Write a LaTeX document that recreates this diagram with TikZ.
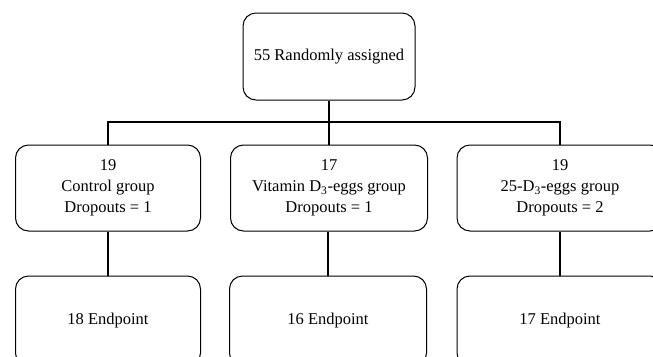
\documentclass[tikz,border=0pt]{standalone}
\usepackage{fontspec}
\setmainfont{Liberation Serif}
\usepackage{tikz}
\usetikzlibrary{positioning,calc}

\begin{document}
\begin{tikzpicture}[x=1pt, y=-1pt, font=\fontsize{16.5}{21}\selectfont,
    box/.style={draw, line width=1pt, rounded corners=13pt, align=center, inner sep=0pt},
    bar/.style={line width=2.8pt}]
    \useasboundingbox (0,0) rectangle (653,356);
    \clip (0,0) rectangle (653,356);
    \node [box, minimum width=172pt, minimum height=87pt] (rand) at (329,56.5) {55 Randomly assigned};

    \node [box, minimum width=185pt, minimum height=86pt] (ctrl) at (108,188) {19\\Control group\\Dropouts = 1};
    \node [box, minimum width=197pt, minimum height=86pt] (vitd) at (329,188) {17\\Vitamin D\textsubscript{3}-eggs group\\Dropouts = 1};
    \node [box, minimum width=206pt, minimum height=86pt] (hyd) at (560,188) {19\\25-D\textsubscript{3}-eggs group\\Dropouts = 2};

    \node [box, minimum width=185pt, minimum height=90pt] (endc) at (108,321) {18 Endpoint};
    \node [box, minimum width=197pt, minimum height=90pt] (endv) at (328,321) {16 Endpoint};
    \node [box, minimum width=206pt, minimum height=90pt] (endh) at (560,321) {17 Endpoint};

    \coordinate (bus) at (329,122);
    \draw [bar] (rand.south) -- (vitd.north);
    \draw [bar] (ctrl.north) |- (bus) -| (hyd.north);
    \draw [bar] (ctrl.south) -- (endc.north);
    \draw [bar] (vitd.south -| endv.north) -- (endv.north);
    \draw [bar] (hyd.south) -- (endh.north);
\end{tikzpicture}
\end{document}
